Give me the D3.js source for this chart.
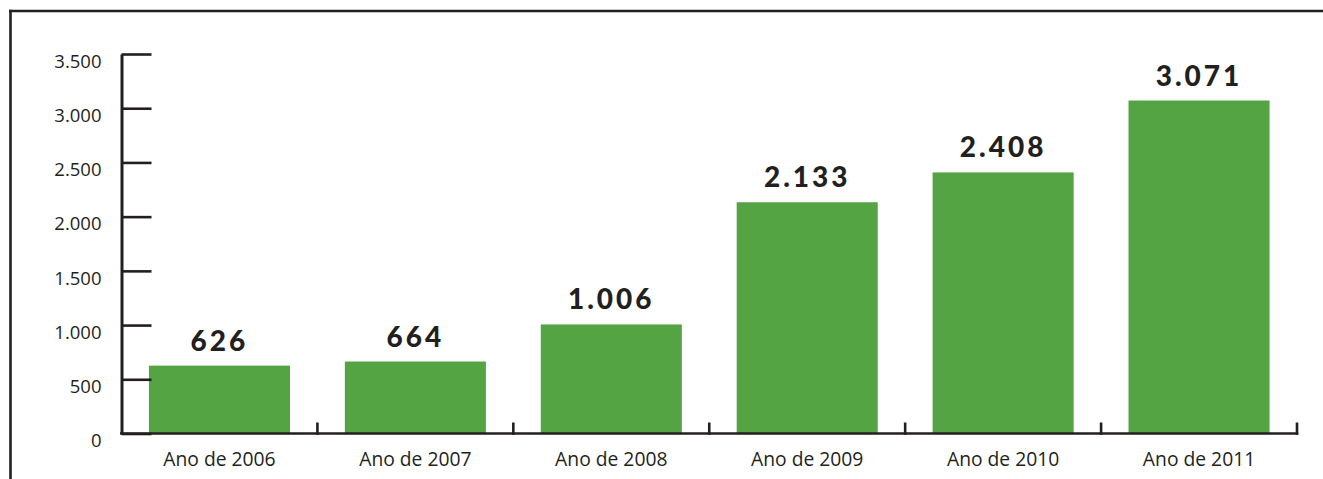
<!DOCTYPE html>
<html><head><meta charset="utf-8">
<script src="https://cdn.jsdelivr.net/npm/d3@7/dist/d3.min.js"></script>
<style>
html,body{margin:0;padding:0;background:#fff;}
svg{display:block;}
</style></head>
<body>
<svg id="chart" width="1323" height="479"></svg>
<script>
const categories = ["Ano de 2006","Ano de 2007","Ano de 2008","Ano de 2009","Ano de 2010","Ano de 2011"];
const values = [626, 664, 1006, 2133, 2408, 3071];
const yTickValues = [0, 500, 1000, 1500, 2000, 2500, 3000, 3500];
const yTickLabels = ["0","500","1.000","1.500","2.000","2.500","3.000","3.500"];

const locale = d3.formatLocale({decimal:",", thousands:".", grouping:[3], currency:["R$",""]});
const fmt = locale.format(",d");

const svg = d3.select("#chart");
const ink = "#231f20";

// frame
svg.append("line").attr("x1",9).attr("x2",1323).attr("y1",11).attr("y2",11)
  .attr("stroke",ink).attr("stroke-width",2.6);
svg.append("line").attr("x1",10.5).attr("x2",10.5).attr("y1",9.7).attr("y2",479)
  .attr("stroke",ink).attr("stroke-width",2.6);

const y = d3.scaleLinear().domain([0,3500]).range([433.5,54]);
const x = d3.scaleBand().domain(categories).range([121.5,1297]).paddingInner(0.28).paddingOuter(0.14);

// bars
svg.append("g").selectAll("rect").data(values).join("rect")
  .attr("x",(d,i)=>x(categories[i]))
  .attr("width",x.bandwidth())
  .attr("y",d=>y(d))
  .attr("height",d=>y(0)-y(d))
  .attr("fill","#55a444");

// value labels
svg.append("g").selectAll("text").data(values).join("text")
  .attr("x",(d,i)=>x(categories[i])+x.bandwidth()/2)
  .attr("y",d=>y(d)-15)
  .attr("text-anchor","middle")
  .attr("font-family","Lato, 'Open Sans', sans-serif")
  .attr("font-weight",900)
  .attr("font-size",28)
  .attr("letter-spacing",3)
  .attr("fill",ink)
  .text(d=>fmt(d));

// y axis
const yAxis = d3.axisLeft(y).tickValues(yTickValues)
  .tickFormat((d,i)=>yTickLabels[i])
  .tickSizeInner(-30).tickSizeOuter(0).tickPadding(20);
const gy = svg.append("g").attr("transform","translate(121.5,0)").call(yAxis);
gy.select(".domain").attr("stroke",ink).attr("stroke-width",3);
gy.selectAll(".tick line").attr("stroke",ink).attr("stroke-width",2.6);
gy.selectAll(".tick text").attr("font-family","'Open Sans', sans-serif")
  .attr("font-size",18.5).attr("fill",ink).attr("dy","0.72em");

// x axis baseline and boundary ticks
const x0 = x.range()[0], x1 = x.range()[1];
svg.append("line").attr("x1",x0-1.5).attr("x2",x1+1.3).attr("y1",y(0)).attr("y2",y(0))
  .attr("stroke",ink).attr("stroke-width",2.6);
const bounds = d3.range(1, categories.length+1).map(i=>x0 + i*x.step());
svg.append("g").selectAll("line").data(bounds).join("line")
  .attr("x1",d=>d).attr("x2",d=>d).attr("y1",y(0)+1.3).attr("y2",y(0)-11)
  .attr("stroke",ink).attr("stroke-width",2.6);

// category labels
svg.append("g").selectAll("text").data(categories).join("text")
  .attr("x",d=>x(d)+x.bandwidth()/2)
  .attr("y",466)
  .attr("text-anchor","middle")
  .attr("font-family","'Open Sans', sans-serif")
  .attr("font-size",19.3)
  .attr("fill",ink)
  .text(d=>d);
</script>
</body></html>
